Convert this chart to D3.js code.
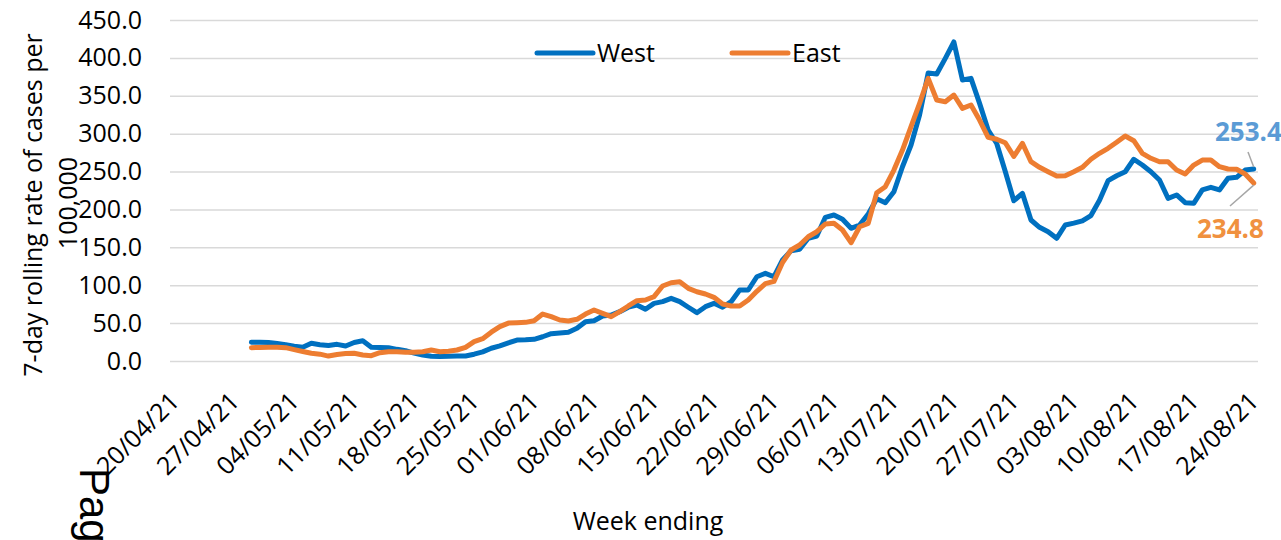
<!DOCTYPE html>
<html>
<head>
<meta charset="utf-8">
<script src="https://cdn.jsdelivr.net/npm/d3@7"></script>
<style>
  body { margin: 0; background: #fff; }
  svg { display: block; font-family: "Open Sans", sans-serif; }
</style>
</head>
<body>
<svg id="chart" width="1281" height="540"></svg>
<script>
// daily 7-day rolling rate per 100,000, from 29/04/21 to 24/08/21
var firstDay = new Date(2021, 3, 20),
    lastDay = new Date(2021, 7, 24),
    seriesStart = new Date(2021, 3, 29);

var seriesNames = ['West', 'East'];
var seriesColors = ['#0070C0', '#ED7D31'];
var labelColors = ['#5B9BD5', '#F0913F'];

var west = [
    24.7, 24.6, 24.4, 23.0, 21.5, 19.5, 18.1, 23.4, 21.5, 20.5,
    22.0, 19.8, 24.5, 26.8, 18.1, 17.8, 17.6, 15.4, 13.5, 10.5,
    7.9, 6.2, 5.8, 6.4, 6.6, 6.6, 9.0, 12.0, 16.8, 20.0,
    24.0, 27.7, 28.0, 28.6, 32.0, 36.0, 37.0, 37.9, 43.1, 51.9,
    53.2, 59.4, 60.7, 65.1, 71.0, 73.9, 68.2, 76.1, 78.3, 82.7,
    78.3, 70.9, 63.7, 71.7, 76.1, 70.9, 78.3, 93.7, 93.7, 111.2,
    115.7, 111.2, 133.3, 145.6, 147.4, 161.9, 165.0, 189.6, 192.7, 187.0,
    175.1, 179.5, 194.0, 214.0, 208.9, 223.4, 256.4, 285.0, 325.0, 380.0,
    378.7, 399.4, 421.0, 370.8, 373.0, 340.0, 304.8, 287.0, 250.0, 211.5,
    221.3, 186.1, 176.4, 170.6, 161.9, 179.5, 182.0, 185.0, 192.0, 212.0,
    238.0, 244.5, 249.8, 266.2, 258.6, 249.8, 238.8, 214.7, 219.1, 208.9,
    208.1, 225.7, 229.2, 225.7, 241.1, 242.4, 252.0, 253.4
];

var east = [
    17.6, 17.9, 18.1, 18.0, 17.6, 15.0, 12.5, 10.2, 9.0, 6.5,
    8.5, 9.8, 10.2, 8.0, 7.0, 11.0, 12.3, 12.3, 11.5, 11.5,
    12.3, 14.5, 12.3, 13.0, 14.5, 18.0, 25.5, 29.5, 38.0, 45.3,
    50.0, 50.6, 51.0, 53.2, 62.0, 58.5, 54.1, 52.8, 55.0, 62.0,
    67.3, 62.9, 58.5, 65.1, 72.6, 79.6, 80.5, 84.9, 99.0, 103.3,
    104.6, 95.9, 91.4, 88.4, 84.0, 75.2, 72.6, 72.6, 80.5, 92.0,
    102.0, 105.0, 130.0, 146.5, 153.1, 164.0, 170.6, 180.8, 181.7, 172.9,
    156.1, 177.2, 181.7, 222.1, 230.0, 252.0, 278.4, 309.2, 340.0, 373.0,
    344.4, 342.2, 351.0, 333.4, 337.8, 318.0, 295.2, 292.6, 288.0, 270.0,
    287.3, 263.0, 255.6, 249.8, 244.1, 244.5, 249.8, 255.6, 266.2, 274.1,
    280.7, 288.6, 296.9, 290.7, 274.1, 267.5, 263.0, 263.0, 252.0, 246.8,
    258.6, 265.2, 265.2, 256.4, 253.4, 253.0, 246.8, 234.8
];

var yTicks = [0, 50, 100, 150, 200, 250, 300, 350, 400, 450];
var yTitle = ['7-day rolling rate of cases per', '100,000'];
var xTitle = 'Week ending';
var endLabels = ['253.4', '234.8'];

var svg = d3.select('#chart');
var fmt = d3.timeFormat('%d/%m/%y'),
    days = d3.timeDay.range(firstDay, d3.timeDay.offset(lastDay, 1)),
    keys = days.map(fmt),
    weekKeys = keys.filter(function(d, i) { return i % 7 == 0 });

var plotLeft = 170, plotRight = 1258, plotTop = 20, plotBottom = 361;

var x = d3.scalePoint().domain(keys).range([plotLeft, plotRight]).padding(0.5);
var y = d3.scaleLinear().domain([0, 450]).range([plotBottom, plotTop]);

function toRows(values)
{
    return values.map(function(v, i) { return {key: fmt(d3.timeDay.offset(seriesStart, i)), value: v} });
}

// y gridlines + labels
var yAxis = svg.append('g')
    .attr('transform', 'translate(' + plotLeft + ',0)')
    .call(d3.axisLeft(y).tickValues(yTicks).tickSize(-(plotRight - plotLeft)).tickPadding(28)
        .tickFormat(d3.format('.1f')));

yAxis.select('.domain').remove();
yAxis.selectAll('line').attr('stroke', '#d9d9d9').attr('stroke-width', 1.5);
yAxis.selectAll('text').attr('font-size', 25).attr('fill', '#000').attr('font-family', '"Open Sans", sans-serif');

// x labels
var xAxis = svg.append('g')
    .attr('transform', 'translate(0,' + plotBottom + ')')
    .call(d3.axisBottom(x).tickValues(weekKeys).tickSize(0));

xAxis.select('.domain').remove();
xAxis.selectAll('text')
    .attr('font-size', 25).attr('fill', '#000').attr('font-family', '"Open Sans", sans-serif')
    .attr('text-anchor', 'end')
    .attr('x', 0).attr('y', 0).attr('dy', 0)
    .attr('transform', 'translate(6,42) rotate(-45)');

// lines
var line = d3.line()
    .x(function(d) { return x(d.key) })
    .y(function(d) { return y(d.value) });

[west, east].forEach(function(values, i)
{
    svg.append('path')
        .datum(toRows(values))
        .attr('fill', 'none')
        .attr('stroke', seriesColors[i])
        .attr('stroke-width', 5)
        .attr('stroke-linejoin', 'round')
        .attr('stroke-linecap', 'round')
        .attr('d', line);
});

// legend
var legendX = [537, 732];
seriesNames.forEach(function(name, i)
{
    svg.append('line')
        .attr('x1', legendX[i]).attr('x2', legendX[i] + 56)
        .attr('y1', 53).attr('y2', 53)
        .attr('stroke', seriesColors[i]).attr('stroke-width', 5).attr('stroke-linecap', 'round');
    svg.append('text')
        .attr('x', legendX[i] + 60).attr('y', 62)
        .attr('font-size', 25).attr('fill', '#000')
        .text(name);
});

// end labels with leader lines
var lastKey = keys[keys.length - 1];
svg.append('line')
    .attr('x1', 1248).attr('y1', 152).attr('x2', x(lastKey)).attr('y2', y(west[west.length - 1]) - 2)
    .attr('stroke', '#a6a6a6').attr('stroke-width', 1.5);
svg.append('line')
    .attr('x1', 1230).attr('y1', 206).attr('x2', x(lastKey)).attr('y2', y(east[east.length - 1]) + 2)
    .attr('stroke', '#a6a6a6').attr('stroke-width', 1.5);

svg.append('text')
    .attr('x', 1215).attr('y', 141)
    .attr('font-size', 26).attr('font-weight', 'bold').attr('fill', labelColors[0])
    .text(endLabels[0]);
svg.append('text')
    .attr('x', 1197).attr('y', 238)
    .attr('font-size', 26).attr('font-weight', 'bold').attr('fill', labelColors[1])
    .text(endLabels[1]);

// axis titles
svg.append('text')
    .attr('transform', 'translate(42,205) rotate(-90)')
    .attr('text-anchor', 'middle').attr('font-size', 25).attr('fill', '#000')
    .text(yTitle[0]);
svg.append('text')
    .attr('transform', 'translate(77,203) rotate(-90)')
    .attr('text-anchor', 'middle').attr('font-size', 25).attr('fill', '#000')
    .text(yTitle[1]);

svg.append('text')
    .attr('x', 648).attr('y', 530)
    .attr('text-anchor', 'middle').attr('font-size', 25).attr('fill', '#000')
    .text(xTitle);

// stray page text
svg.append('text')
    .attr('transform', 'translate(80,468) rotate(90)')
    .attr('font-family', '"Liberation Sans", Arial, sans-serif')
    .attr('font-size', 42).attr('fill', '#000')
    .text('Page');
</script>
</body>
</html>
